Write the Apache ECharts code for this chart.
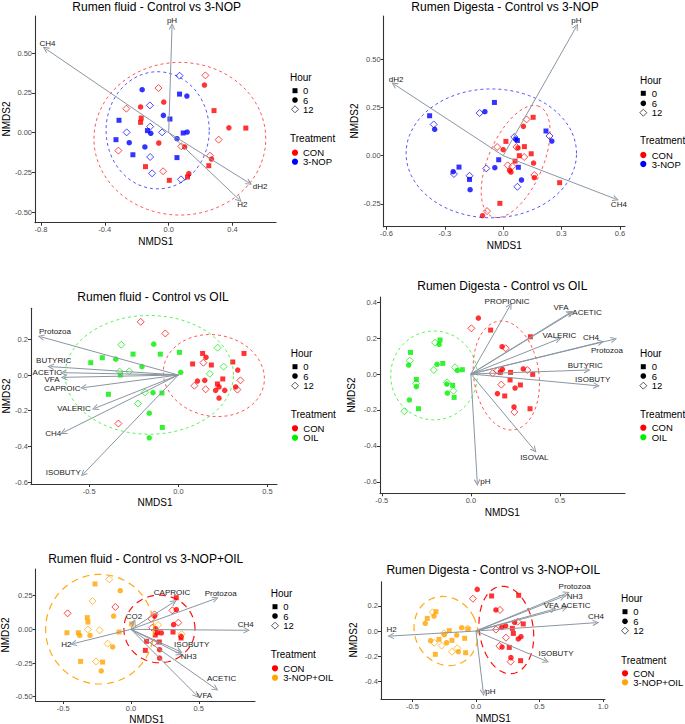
<!DOCTYPE html>
<html><head><meta charset="utf-8">
<script src="https://cdn.jsdelivr.net/npm/echarts@6/dist/echarts.min.js"></script>
<style>html,body{margin:0;padding:0;background:#fff}#c{width:685px;height:724px}</style>
</head><body><div id="c"></div>
<script>
// ---------------- DATA ----------------
// [NMDS1, NMDS2, hour]
const fluidNOP_CON = [[0.230,0.361,12],[0.224,0.300,6],[0.284,0.139,0],[0.377,0.031,6],[0.483,0.029,0],[0.313,-0.044,12],[0.259,-0.145,12],[0.268,-0.166,6],[0.251,-0.208,0],[0.126,-0.258,6],[0.118,-0.279,0],[0.004,-0.300,0],[-0.035,-0.243,12],[-0.145,-0.214,0],[-0.062,-0.065,6],[0.100,-0.090,6],[0.079,-0.086,12],[-0.031,0.193,6],[-0.064,0.281,12],[-0.265,0.151,12],[-0.176,0.162,6],[-0.172,0.092,0],[-0.176,0.065,0],[-0.315,-0.113,12]];
const fluidNOP_NOP = [[0.068,0.359,12],[-0.166,0.271,6],[0.068,0.243,0],[0.114,0.231,6],[-0.118,0.172,12],[-0.033,0.109,6],[0.008,0.086,0],[-0.311,0.078,0],[-0.116,0.038,12],[-0.133,0.013,0],[-0.112,-0.004,6],[-0.263,0.002,12],[-0.041,0.002,12],[0.091,-0.002,0],[0.116,0.004,6],[-0.330,-0.044,0],[-0.247,-0.063,6],[-0.149,-0.090,6],[0.052,-0.038,6],[-0.224,-0.139,0],[-0.116,-0.153,12],[0.052,-0.157,0],[-0.104,-0.256,12],[0.077,-0.294,12]];
const fluidNOP_vectors = [['pH',0.021,0.670],['CH4',-0.771,0.529],['dH2',0.504,-0.317],['H2',0.442,-0.422]];
const fluidNOP_ellipses = [{trt:0,cx:0.070,cy:-0.038,a:0.538,b:0.481,angle:0},{trt:1,cx:-0.069,cy:0.015,a:0.323,b:0.369,angle:0}];

const digNOP_CON = [[0.154,0.199,0],[0.120,0.188,12],[0.104,0.152,6],[0.014,0.074,0],[0.000,0.031,6],[-0.031,0.045,12],[0.068,0.045,12],[0.076,0.040,6],[0.109,0.047,0],[0.144,0.010,0],[0.083,0.000,0],[0.108,-0.007,12],[0.156,-0.038,6],[0.061,-0.028,0],[0.023,-0.050,12],[0.047,-0.055,12],[0.033,-0.076,6],[0.040,-0.085,6],[0.160,-0.100,12],[0.160,-0.114,6],[0.290,-0.140,0],[-0.017,-0.247,0],[-0.083,-0.287,12],[-0.106,-0.311,6]];
const digNOP_NOP = [[-0.045,0.276,0],[-0.094,0.228,6],[-0.121,0.221,12],[-0.378,0.207,0],[-0.357,0.162,12],[-0.352,0.137,6],[0.220,0.128,0],[0.238,0.102,12],[0.250,0.076,6],[0.057,0.097,12],[0.064,0.086,6],[0.073,0.079,0],[-0.023,-0.021,0],[-0.043,-0.062,6],[-0.087,-0.066,12],[0.078,-0.060,0],[0.094,-0.126,6],[0.073,-0.161,12],[-0.227,-0.059,0],[-0.257,-0.083,6],[-0.253,-0.095,12],[-0.173,-0.104,12],[-0.173,-0.123,0],[-0.170,-0.176,6]];
const digNOP_vectors = [['pH',0.376,0.669],['dH2',-0.560,0.370],['CH4',0.579,-0.225]];
const digNOP_ellipses = [{trt:1,cx:-0.061,cy:0.012,a:0.438,b:0.334,angle:0},{trt:0,cx:0.064,cy:-0.030,a:0.31,b:0.14,angle:67}];

const fluidOIL_CON = [[-0.211,0.298,12],[-0.073,0.233,12],[0.368,0.121,0],[0.136,0.121,0],[0.155,0.099,6],[0.080,0.062,0],[0.140,0.069,12],[0.185,0.056,0],[0.305,0.073,0],[0.333,0.028,6],[0.348,-0.030,12],[0.249,-0.022,0],[0.107,-0.034,6],[0.148,-0.030,6],[0.219,-0.050,0],[0.228,-0.067,6],[0.209,-0.086,6],[0.260,-0.086,6],[0.090,-0.060,12],[0.153,-0.080,12],[0.321,-0.067,6],[0.331,-0.082,12],[0.228,-0.129,6],[-0.336,-0.272,12]];
const fluidOIL_OIL = [[-0.320,0.170,12],[-0.138,0.173,6],[-0.254,0.117,0],[-0.101,0.117,0],[0.006,0.127,0],[0.220,0.153,12],[-0.426,0.097,0],[-0.351,0.089,6],[-0.491,0.069,0],[-0.204,0.047,6],[0.254,0.047,12],[-0.329,0.019,12],[-0.275,0.021,12],[-0.325,0.000,0],[0.013,0.015,6],[0.176,0.007,12],[-0.392,-0.108,0],[-0.187,-0.097,12],[-0.142,-0.099,6],[-0.092,-0.101,0],[-0.226,-0.160,12],[-0.163,-0.214,6],[-0.090,-0.294,0],[-0.163,-0.352,6]];
const fluidOIL_vectors = [['Protozoa',-0.770,0.214],['BUTYRIC',-0.716,0.047],['ACETIC',-0.645,0.013],['VFA',-0.641,-0.013],['CAPROIC',-0.533,-0.071],['VALERIC',-0.467,-0.186],['CH4',-0.645,-0.322],['ISOBUTY',-0.533,-0.555]];
const fluidOIL_ellipses = [{trt:1,cx:-0.163,cy:0.001,a:0.472,b:0.333,angle:0},{trt:0,cx:0.199,cy:-0.003,a:0.285,b:0.228,angle:-10}];

const digOIL_CON = [[0.042,0.311,6],[0.003,0.254,12],[0.111,0.244,0],[0.334,0.207,0],[0.175,0.152,6],[0.195,0.143,12],[0.122,0.004,12],[0.149,0.019,12],[0.177,0.026,6],[0.165,0.009,0],[0.223,0.009,0],[0.294,0.028,6],[0.317,0.022,12],[0.347,-0.002,0],[0.171,-0.059,12],[0.220,-0.033,0],[0.278,-0.061,0],[0.248,-0.078,6],[0.149,-0.109,6],[0.190,-0.122,0],[0.242,-0.183,6],[0.244,-0.211,12],[0.332,-0.193,0]];
const digOIL_OIL = [[-0.173,0.189,0],[-0.178,0.165,6],[-0.201,0.174,12],[-0.339,0.120,0],[-0.343,0.074,12],[-0.349,0.050,6],[-0.158,0.059,0],[-0.190,0.054,6],[-0.208,0.022,12],[-0.089,0.037,12],[-0.076,0.020,6],[-0.048,0.024,0],[-0.306,-0.030,0],[-0.307,-0.052,12],[-0.306,-0.070,6],[-0.134,-0.046,12],[-0.135,-0.056,6],[-0.102,-0.063,0],[-0.098,-0.093,12],[-0.132,-0.106,6],[-0.094,-0.130,0],[-0.345,-0.144,6],[-0.294,-0.193,0],[-0.373,-0.207,12]];
const digOIL_vectors = [['PROPIONIC',0.220,0.380],['VFA',0.556,0.341],['ACETIC',0.562,0.339],['VALERIC',0.491,0.194],['CH4',0.730,0.178],['Protozoa',0.803,0.193],['BUTYRIC',0.653,0.022],['ISOBUTY',0.706,-0.065],['ISOVAL',0.356,-0.422],['pH',0.036,-0.604]];
const digOIL_ellipses = [{trt:1,cx:-0.207,cy:-0.008,a:0.243,b:0.247,angle:0},{trt:0,cx:0.199,cy:-0.008,a:0.183,b:0.305,angle:8}];

const fluidMIX_CON = [[0.334,0.235,0],[0.334,0.146,6],[0.305,0.141,12],[0.174,0.111,12],[0.174,0.099,6],[0.150,0.079,12],[0.349,0.050,12],[0.314,0.035,6],[0.157,0.012,12],[0.182,0.005,6],[0.310,-0.020,0],[0.224,-0.027,6],[0.369,-0.052,6],[0.369,-0.064,0],[0.179,-0.042,0],[0.194,-0.025,0],[0.115,-0.089,0],[0.170,-0.099,12],[0.209,-0.094,0],[0.106,-0.156,0],[0.211,-0.151,6],[0.211,-0.213,6],[-0.467,0.119,12],[-0.115,0.166,12]];
const fluidMIX_MIX = [[-0.160,0.371,12],[-0.265,0.337,0],[-0.079,0.287,6],[-0.283,0.210,12],[-0.322,0.087,0],[-0.317,0.054,0],[-0.128,0.099,6],[-0.317,0.000,12],[-0.231,-0.007,12],[-0.472,-0.025,0],[-0.388,-0.025,0],[-0.378,-0.045,6],[-0.302,-0.045,6],[-0.088,-0.020,0],[-0.172,-0.106,12],[-0.135,-0.131,6],[-0.371,-0.238,0],[-0.258,-0.238,12],[-0.209,-0.243,0],[-0.219,-0.309,6],[0.005,0.040,0],[0.200,0.032,12],[0.374,-0.035,12]];
const fluidMIX_vectors = [['CAPROIC',0.317,0.203],['Protozoa',0.624,0.228],['CO2',0.022,0.054],['CH4',0.853,-0.007],['H2',-0.425,-0.106],['ISOBUTY',0.359,-0.163],['NH3',0.359,-0.181],['ACETIC',0.624,-0.441],['VFA',0.484,-0.490]];
const fluidMIX_ellipses = [{trt:1,cx:-0.230,cy:0.001,a:0.399,b:0.407,angle:0},{trt:0,cx:0.210,cy:0.003,a:0.262,b:0.251,angle:0}];

const digMIX_CON = [[0.010,0.330,6],[-0.024,0.256,12],[0.123,0.278,0],[0.336,0.283,0],[0.157,0.167,6],[0.189,0.167,12],[0.157,0.011,12],[0.202,0.029,6],[0.233,0.040,6],[0.304,0.069,6],[0.328,0.074,12],[0.286,0.021,0],[0.294,-0.019,0],[0.372,0.056,0],[0.333,-0.063,6],[0.354,-0.045,6],[0.236,-0.053,12],[0.184,-0.119,12],[0.205,-0.127,6],[0.262,-0.130,0],[0.275,-0.211,6],[0.273,-0.243,12],[0.351,-0.235,0]];
const digMIX_MIX = [[-0.315,0.153,0],[-0.341,0.148,12],[-0.330,0.119,6],[-0.383,0.100,0],[-0.399,0.061,6],[-0.210,0.003,0],[-0.113,0.026,6],[-0.063,0.016,0],[-0.066,0.020,12],[-0.252,-0.019,12],[-0.249,-0.029,6],[-0.152,-0.032,6],[-0.291,-0.066,0],[-0.231,-0.093,6],[-0.189,-0.074,0],[-0.089,-0.058,0],[-0.147,-0.137,12],[-0.270,-0.116,12],[-0.357,-0.077,6],[-0.328,-0.093,12],[-0.320,-0.185,0],[-0.189,-0.164,12],[-0.139,-0.164,6],[-0.081,-0.172,0]];
const digMIX_vectors = [['Protozoa',0.713,0.299],['NH3',0.682,0.272],['VFA',0.608,0.172],['ACETIC',0.700,0.185],['CH4',0.944,0.066],['H2',-0.671,-0.040],['ISOBUTY',0.551,-0.238],['pH',0.058,-0.490]];
const digMIX_ellipses = [{trt:1,cx:-0.236,cy:0.000,a:0.245,b:0.280,angle:25},{trt:0,cx:0.239,cy:0.008,a:0.212,b:0.349,angle:8}];

// tick labels
const ticks = {
  fluidNOP: {x:[-0.8,-0.4,0,0.4], y:[-0.5,-0.25,0,0.25,0.5]},
  digNOP:   {x:[-0.6,-0.3,0,0.3,0.6], y:[-0.25,0,0.25,0.5]},
  fluidOIL: {x:[-0.5,0,0.5], y:[-0.6,-0.4,-0.2,0,0.2]},
  digOIL:   {x:[-0.5,0,0.5], y:[-0.6,-0.4,-0.2,0,0.2,0.4]},
  fluidMIX: {x:[-0.5,0,0.5], y:[-0.5,-0.25,0,0.25]},
  digMIX:   {x:[-0.5,0,0.5,1.0], y:[-0.4,-0.2,0,0.2]}
};
const hours = [0, 6, 12];

// ---------------- LAYOUT / STYLE ----------------
const FONT = '"Liberation Sans", Arial, Helvetica, sans-serif';
const COL = {CON:'#FF0000','3-NOP':'#0000FF',OIL:'#00EE00','3-NOP+OIL':'#FFA500'};
const ARROW = 'path://M0,10 L5,0 L10,10 L8.4,10 L5,3.2 L1.6,10 Z';
const LABEL_COLOR = '#1a1a1a';

const panels = [
 {key:'fluidNOP', title:'Rumen fluid - Control vs 3-NOP', trts:['CON','3-NOP'], groups:[fluidNOP_CON,fluidNOP_NOP], vec:fluidNOP_vectors, ell:fluidNOP_ellipses,
  grid:{left:35,top:16,width:241,height:206.7}, xr:[-0.837,0.672], yr:[-0.567,0.735], xd:1, yd:2,
  off:{pH:[0,-6],CH4:[2,-5],dH2:[11,3],H2:[3,5]}, dash:[3,3], ew:0.9,
  T:[156.7,7], X:[155.7,241.7], Y:[6,119],
  L:{hx:290,sx:295,tx:303,hy:77.8,hys:[90.7,100,109.3],ty:138.3,tys:[152.7,161.7]}},
 {key:'digNOP', title:'Rumen Digesta - Control vs 3-NOP', trts:['CON','3-NOP'], groups:[digNOP_CON,digNOP_NOP], vec:digNOP_vectors, ell:digNOP_ellipses,
  grid:{left:383.7,top:16,width:241.3,height:210.7}, xr:[-0.614,0.626], yr:[-0.368,0.724], xd:1, yd:2,
  off:{pH:[0,-6],dH2:[2,-5],CH4:[3,5]}, dash:[3,3], ew:0.9,
  T:[505,7], X:[504.3,245], Y:[354,121],
  L:{hx:640,sx:643.3,tx:651.7,hy:80,hys:[93.3,103.3,112.7],ty:140.7,tys:[155,164]}},
 {key:'fluidOIL', title:'Rumen fluid - Control vs OIL', trts:['CON','OIL'], groups:[fluidOIL_CON,fluidOIL_OIL], vec:fluidOIL_vectors, ell:fluidOIL_ellipses,
  grid:{left:31,top:308.3,width:246,height:175.7}, xr:[-0.826,0.553], yr:[-0.611,0.374], xd:1, yd:1,
  off:{Protozoa:[14,-5],BUTYRIC:[3,-6],ACETIC:[-16,0],VFA:[-12,2],CAPROIC:[-21,1],VALERIC:[-21,0],CH4:[-10,1],ISOBUTY:[-20,-2]}, dash:[3,3], ew:0.9,
  T:[153,296.7], X:[155,502.7], Y:[6,396],
  L:{hx:290.7,sx:295,tx:303.3,hy:353.3,hys:[366.7,376,385.7],ty:414.3,tys:[428.3,437.7]}},
 {key:'digOIL', title:'Rumen Digesta - Control vs OIL', trts:['CON','OIL'], groups:[digOIL_CON,digOIL_OIL], vec:digOIL_vectors, ell:digOIL_ellipses,
  grid:{left:380,top:297,width:245,height:196.3}, xr:[-0.51,0.865], yr:[-0.663,0.428], xd:1, yd:1,
  off:{PROPIONIC:[-3,-4],VFA:[-9,-5],ACETIC:[16,-1],VALERIC:[1,-4],CH4:[-10,-4],Protozoa:[-7,11],BUTYRIC:[-2,-5],ISOBUTY:[-4,-6],ISOVAL:[0,8],pH:[8,-1]}, dash:[3,3], ew:0.9,
  T:[502.3,285.7], X:[502.3,512.3], Y:[351.7,395],
  L:{hx:640,sx:643.3,tx:651.7,hy:353.3,hys:[366.7,376,385.7],ty:414.3,tys:[427.7,437.3]}},
 {key:'fluidMIX', title:'Rumen fluid - Control vs 3-NOP+OIL', trts:['CON','3-NOP+OIL'], groups:[fluidMIX_CON,fluidMIX_MIX], vec:fluidMIX_vectors, ell:fluidMIX_ellipses,
  grid:{left:35.7,top:569,width:219.3,height:132}, xr:[-0.702,0.914], yr:[-0.532,0.448], xd:1, yd:2,
  off:{CAPROIC:[-2,-10],Protozoa:[5,-5],CO2:[0,-6],CH4:[-1,-6],H2:[-7,1],ISOBUTY:[12,-7],NH3:[9,3],ACETIC:[6,-10],VFA:[8,0]}, dash:[7,5], ew:1.2,
  T:[145.7,559.3], X:[146.7,719], Y:[5,635],
  L:{hx:270.7,sx:275,tx:283.3,hy:593.3,hys:[606.7,616,625.7],ty:654.3,tys:[668.3,677.7]}},
 {key:'digMIX', title:'Rumen Digesta - Control vs 3-NOP+OIL', trts:['CON','3-NOP+OIL'], groups:[digMIX_CON,digMIX_MIX], vec:digMIX_vectors, ell:digMIX_ellipses,
  grid:{left:381,top:581.7,width:224,height:117.3}, xr:[-0.747,1.015], yr:[-0.539,0.391], xd:1, yd:1,
  off:{Protozoa:[8,-7],NH3:[12,0],VFA:[-2,-4],ACETIC:[11,-2],CH4:[0,-6],H2:[1,-7],ISOBUTY:[10,-8],pH:[7,-1]}, dash:[7,5], ew:1.2,
  T:[493.3,570], X:[493.3,718.3], Y:[353.3,640],
  L:{hx:621,sx:625,tx:633.3,hy:598.3,hys:[611.7,621.3,630.7],ty:660,tys:[673.3,682.3]}}
];

const SYM = {0:'rect',6:'circle',12:'diamond'};
const SSZ = {0:5,6:5.5,12:7};

function ellipsePoints(e){
  const pts=[]; const th=e.angle*Math.PI/180; const n=90;
  for(let k=0;k<=n;k++){
    const t=k/n*2*Math.PI, ux=e.a*Math.cos(t), uy=e.b*Math.sin(t);
    pts.push([e.cx+ux*Math.cos(th)-uy*Math.sin(th), e.cy+ux*Math.sin(th)+uy*Math.cos(th)]);
  }
  return pts;
}
function axisCommon(vals, digits){
  return {
    type:'value', splitLine:{show:false},
    axisLine:{show:true,onZero:false,lineStyle:{color:'#333',width:1.1}},
    axisTick:{show:true,length:3,customValues:vals,lineStyle:{color:'#333',width:1}},
    axisLabel:{customValues:vals,margin:3,fontSize:7.5,color:'#4d4d4d',fontFamily:FONT,
      formatter:v=>Number(v).toFixed(digits)}
  };
}

const grids=[], xAxes=[], yAxes=[], series=[], graphics=[];
panels.forEach((p,i)=>{
  grids.push(Object.assign({containLabel:false}, p.grid));
  xAxes.push(Object.assign(axisCommon(ticks[p.key].x,p.xd),{gridIndex:i,min:p.xr[0],max:p.xr[1]}));
  yAxes.push(Object.assign(axisCommon(ticks[p.key].y,p.yd),{gridIndex:i,min:p.yr[0],max:p.yr[1]}));
  // points
  p.groups.forEach((arr,k)=>{
    const c = COL[p.trts[k]];
    hours.forEach(h=>{
      series.push({type:'scatter',xAxisIndex:i,yAxisIndex:i,z:2,silent:true,
        symbol:SYM[h],symbolSize:SSZ[h],
        itemStyle: h===12 ? {color:'rgba(0,0,0,0)',borderColor:c,borderWidth:0.9} : {color:c},
        data:arr.filter(d=>d[2]===h).map(d=>[d[0],d[1]])});
    });
  });
  // ellipses
  p.ell.forEach(e=>{
    series.push({type:'line',xAxisIndex:i,yAxisIndex:i,z:3,silent:true,showSymbol:false,symbol:'none',
      lineStyle:{color:COL[p.trts[e.trt]],width:p.ew,type:p.dash,opacity:p.ew>1?0.95:0.75},
      data:ellipsePoints(e)});
  });
  // arrows
  series.push({type:'lines',coordinateSystem:'cartesian2d',xAxisIndex:i,yAxisIndex:i,z:4,silent:true,
    symbol:['none',ARROW],symbolSize:[1,6.5],
    lineStyle:{color:'#8a96a2',width:1,opacity:1,curveness:0},
    data:p.vec.map(v=>({coords:[[0,0],[v[1],v[2]]]}))});
  // arrow labels (custom series, positioned through the axes)
  series.push({type:'custom',xAxisIndex:i,yAxisIndex:i,z:5,silent:true,clip:false,
    data:p.vec.map(v=>[v[1],v[2]]),
    renderItem:(params,api)=>{
      const pt=api.coord([api.value(0),api.value(1)]);
      const name=p.vec[params.dataIndex][0];
      const o=p.off[name]||[0,0];
      return {type:'text',x:pt[0]+o[0],y:pt[1]+o[1],
        style:{text:name,fill:LABEL_COLOR,font:'8px '+FONT,align:'center',verticalAlign:'middle',textAlign:'center',textVerticalAlign:'middle'}};
    }});
  // titles
  graphics.push({type:'text',x:p.T[0],y:p.T[1],style:{text:p.title,font:'12px '+FONT,fill:'#000',textAlign:'center',textVerticalAlign:'middle'}});
  graphics.push({type:'text',x:p.X[0],y:p.X[1],style:{text:'NMDS1',font:'10px '+FONT,fill:'#000',textAlign:'center',textVerticalAlign:'middle'}});
  graphics.push({type:'text',x:p.Y[0],y:p.Y[1],rotation:Math.PI/2,style:{text:'NMDS2',font:'10px '+FONT,fill:'#000',textAlign:'center',textVerticalAlign:'middle'}});
  // legend
  const L=p.L;
  graphics.push({type:'text',x:L.hx,y:L.hy,style:{text:'Hour',font:'10px '+FONT,fill:'#000',textAlign:'left',textVerticalAlign:'middle'}});
  graphics.push({type:'rect',shape:{x:L.sx-2.5,y:L.hys[0]-2.5,width:5,height:5},style:{fill:'#000'}});
  graphics.push({type:'circle',shape:{cx:L.sx,cy:L.hys[1],r:2.8},style:{fill:'#000'}});
  graphics.push({type:'polygon',shape:{points:[[L.sx,L.hys[2]-3.5],[L.sx+3.5,L.hys[2]],[L.sx,L.hys[2]+3.5],[L.sx-3.5,L.hys[2]]]},style:{fill:'none',stroke:'#444',lineWidth:0.9}});
  ['0','6','12'].forEach((t,j)=>graphics.push({type:'text',x:L.tx,y:L.hys[j],style:{text:t,font:'9.5px '+FONT,fill:'#000',textAlign:'left',textVerticalAlign:'middle'}}));
  graphics.push({type:'text',x:L.hx,y:L.ty,style:{text:'Treatment',font:'10px '+FONT,fill:'#000',textAlign:'left',textVerticalAlign:'middle'}});
  p.trts.forEach((t,j)=>{
    graphics.push({type:'circle',shape:{cx:L.sx,cy:L.tys[j],r:3.1},style:{fill:COL[t]}});
    graphics.push({type:'text',x:L.tx,y:L.tys[j],style:{text:t,font:'9.5px '+FONT,fill:'#000',textAlign:'left',textVerticalAlign:'middle'}});
  });
});

const chart = echarts.init(document.getElementById('c'), null, {renderer:'svg'});
chart.setOption({animation:false,backgroundColor:'#fff',grid:grids,xAxis:xAxes,yAxis:yAxes,series:series,graphic:graphics});
</script></body></html>
